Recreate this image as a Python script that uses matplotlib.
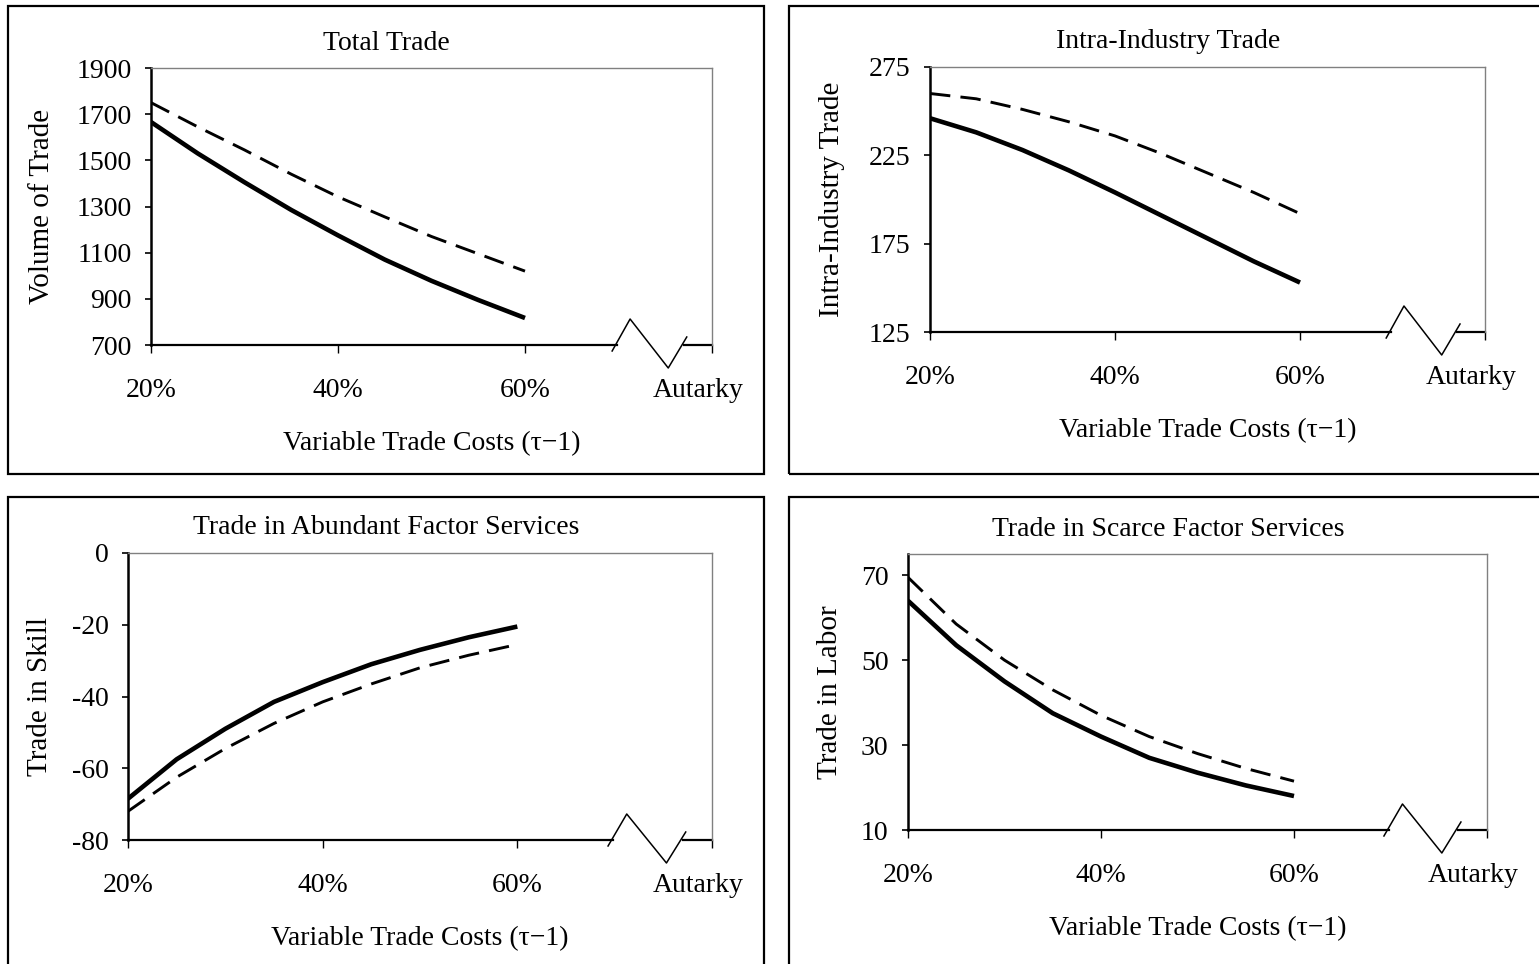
import matplotlib
matplotlib.use("Agg")
import matplotlib.pyplot as plt
import matplotlib.transforms as mtransforms
from matplotlib.patches import Rectangle

plt.rcParams['font.family'] = ['Liberation Serif', 'DejaVu Serif']
plt.rcParams['axes.unicode_minus'] = False

W, H = 1539, 964

# data
cost = [20, 25, 30, 35, 40, 45, 50, 55, 60]
tick_pos = [20, 40, 60, 80]
tick_labels = ['20%', '40%', '60%', 'Autarky']

total_solid = [1666, 1530, 1405, 1285, 1175, 1070, 978, 895, 817]
total_dashed = [1750, 1645, 1545, 1440, 1342, 1255, 1170, 1095, 1020]
intra_solid = [246, 238, 228, 216.5, 204, 191, 178, 165, 153]
intra_dashed = [260, 257, 251, 244, 236, 226, 215, 204, 192]
skill_solid = [-68.5, -57.5, -49, -41.5, -36, -31, -27, -23.5, -20.5]
skill_dashed = [-72, -62.5, -54.5, -47.5, -41.5, -36.5, -32, -28.5, -25.5]
labor_solid = [64, 53.5, 45, 37.5, 32, 27, 23.5, 20.5, 18]
labor_dashed = [69.5, 58.5, 50, 43, 37, 32, 28, 24.5, 21.5]

panels = [
    # title, ylabel, solid, dashed, ylim, yticks, axes px box (l, t, r, b), frame px box, ylabel x
    ('Total Trade', 'Volume of Trade', total_solid, total_dashed,
     (700, 1900), range(700, 1901, 200), (151, 68, 712, 345), (7.5, 6, 764, 474), 42),
    ('Intra-Industry Trade', 'Intra-Industry Trade', intra_solid, intra_dashed,
     (125, 275), range(125, 276, 50), (930, 67, 1485, 332), (789, 6, 1545, 474), 832),
    ('Trade in Abundant Factor Services', 'Trade in Skill', skill_solid, skill_dashed,
     (-80, 0), range(-80, 1, 20), (128, 553, 712, 840), (7.5, 497, 764, 975), 40),
    ('Trade in Scarce Factor Services', 'Trade in Labor', labor_solid, labor_dashed,
     (10, 75), range(10, 71, 20), (908, 554, 1487, 830), (789, 497, 1545, 975), 830),
]

fig = plt.figure(figsize=(W / 100, H / 100), dpi=100)

for title, ylabel, solid, dashed, ylim, yticks, box, frame, ylx in panels:
    l, t, r, b = box
    ax = fig.add_axes([l / W, 1 - b / H, (r - l) / W, (b - t) / H])
    ax.plot(cost, solid, color='black', lw=3.3, solid_capstyle='butt')
    ax.plot(cost, dashed, color='black', lw=2.1, dashes=(7, 3.5))
    ax.set_xlim(20, 80)
    ax.set_ylim(*ylim)
    ax.set_yticks(list(yticks))
    ax.set_xticks(tick_pos)
    ax.set_xticklabels(tick_labels)
    ax.tick_params(axis='x', direction='out', length=6, width=1, pad=18, labelsize=20)
    ax.tick_params(axis='y', direction='out', length=4, width=1.2, pad=10, labelsize=20)
    # Autarky label sits a bit left of its tick
    lab = ax.get_xticklabels()[-1]
    lab.set_transform(lab.get_transform() +
                      mtransforms.ScaledTranslation(-14 / 100, 0, fig.dpi_scale_trans))

    ax.spines['bottom'].set_visible(False)
    ax.spines['top'].set_color('#808080')
    ax.spines['right'].set_color('#808080')
    ax.spines['top'].set_linewidth(1)
    ax.spines['right'].set_linewidth(1)
    ax.spines['left'].set_linewidth(1.8)

    # broken x axis with zigzag before Autarky
    hpx = b - t
    ax.plot([0, 0.83], [0, 0], transform=ax.transAxes, color='black', lw=1.6, clip_on=False)
    ax.plot([0.95, 1], [0, 0], transform=ax.transAxes, color='black', lw=1.6, clip_on=False)
    zx = [0.822, 0.854, 0.922, 0.955]
    zy = [-6 / hpx, 26 / hpx, -23 / hpx, 8 / hpx]
    ax.plot(zx, zy, transform=ax.transAxes, color='black', lw=1.1, clip_on=False)

    # panel frame
    fl, ft, fr, fb = frame
    fig.add_artist(Rectangle((fl / W, 1 - fb / H), (fr - fl) / W, (fb - ft) / H,
                             transform=fig.transFigure, fill=False,
                             edgecolor='black', lw=1.6))

    tx = 386 if fl < 100 else 1168
    fig.text(tx / W, 1 - (t - 25) / H, title, ha='center', va='center', fontsize=20)
    fig.text((l + r) / 2 / W, 1 - (b + 99) / H, 'Variable Trade Costs (\u03c4\u22121)',
             ha='center', va='center', fontsize=20)
    fig.text(ylx / W, 1 - (t + b) / 2 / H, ylabel,
             ha='center', va='center', rotation=90, fontsize=21)

fig.savefig('out.png', dpi=100)
